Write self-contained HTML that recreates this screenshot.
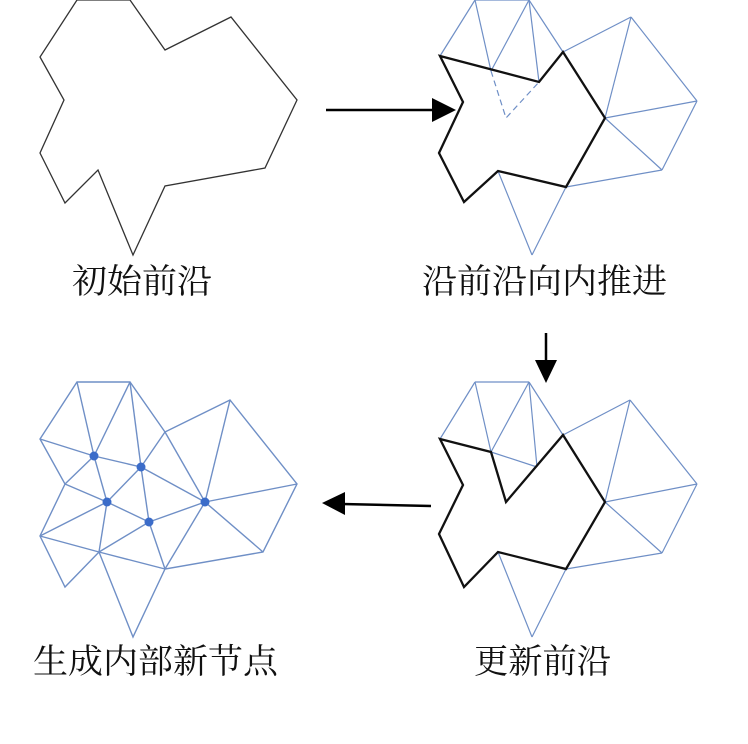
<!DOCTYPE html>
<html><head><meta charset="utf-8"><style>
html,body{margin:0;padding:0;background:#fff;}
svg{display:block}
text{font-family:"Liberation Serif","Noto Serif CJK SC",serif;font-size:34px;fill:#111;}
</style></head><body>
<svg width="748" height="744" viewBox="0 0 748 744" xmlns="http://www.w3.org/2000/svg">
<defs><marker id="ah" markerWidth="10" markerHeight="10" refX="0" refY="0"/></defs>
<!-- Panel 1 -->
<polygon points="77,0 130,0 165,50 231,17 297,100 265,168 165,186 133,255 98,170 65,203 40,153 64,100 40,57" fill="none" stroke="#333" stroke-width="1.3"/>
<!-- Arrow right -->
<line x1="326" y1="110" x2="434" y2="110" stroke="#000" stroke-width="2.5"/>
<polygon points="432,98 456,110 432,122" fill="#000"/>
<!-- Panel 2 blue -->
<g stroke="#6f8fc6" stroke-width="1.2" fill="none">
<line x1="475" y1="0" x2="529" y2="0"/>
<line x1="440" y1="56" x2="475" y2="0"/>
<line x1="475" y1="0" x2="491" y2="71"/>
<line x1="491" y1="71" x2="529" y2="0"/>
<line x1="529" y1="0" x2="539" y2="82"/>
<line x1="529" y1="0" x2="563" y2="52"/>
<line x1="563" y1="52" x2="631" y2="17"/>
<line x1="631" y1="17" x2="697" y2="101"/>
<line x1="631" y1="17" x2="605" y2="118"/>
<line x1="605" y1="118" x2="697" y2="101"/>
<line x1="605" y1="118" x2="662" y2="170"/>
<line x1="697" y1="101" x2="662" y2="170"/>
<line x1="662" y1="170" x2="566" y2="187"/>
<line x1="498" y1="171" x2="532" y2="255"/>
<line x1="532" y1="255" x2="566" y2="187"/>
<polyline points="491,71 506,118 539,82" stroke-dasharray="6,4"/>
</g>
<polygon points="440,56 539,82 563,52 605,118 566,187 498,171 464,202 439,153 463,102" fill="none" stroke="#111" stroke-width="2.3"/>
<!-- Down arrow -->
<line x1="546" y1="333" x2="546" y2="362" stroke="#000" stroke-width="2.5"/>
<polygon points="535,360 546,383 557,360" fill="#000"/>
<!-- Panel 4 -->
<g stroke="#6f8fc6" stroke-width="1.2" fill="none">
<line x1="475" y1="382" x2="529" y2="382"/>
<line x1="440" y1="439" x2="475" y2="382"/>
<line x1="475" y1="382" x2="491" y2="452"/>
<line x1="491" y1="452" x2="529" y2="382"/>
<line x1="529" y1="382" x2="537" y2="467"/>
<line x1="491" y1="452" x2="537" y2="467"/>
<line x1="529" y1="382" x2="563" y2="435"/>
<line x1="563" y1="435" x2="630" y2="400"/>
<line x1="630" y1="400" x2="697" y2="484"/>
<line x1="630" y1="400" x2="605" y2="502"/>
<line x1="605" y1="502" x2="697" y2="484"/>
<line x1="605" y1="502" x2="662" y2="553"/>
<line x1="697" y1="484" x2="662" y2="553"/>
<line x1="662" y1="553" x2="566" y2="569"/>
<line x1="498" y1="552" x2="532" y2="637"/>
<line x1="532" y1="637" x2="566" y2="569"/>
</g>
<polygon points="440,439 491,452 506,502 563,435 605,502 566,569 498,552 464,587 439,534 463,485" fill="none" stroke="#111" stroke-width="2.3"/>
<!-- Left arrow -->
<line x1="431" y1="506" x2="342" y2="504" stroke="#000" stroke-width="2.5"/>
<polygon points="345,492 322,503 345,515" fill="#000"/>
<!-- Panel 3 -->
<g stroke="#6f8fc6" stroke-width="1.4" fill="none">
<polygon points="77,382 130,382 165,432 230,400 297,484 263,552 165,569 133,637 99,552 65,587 40,536 65,484 40,439"/>
<line x1="40" y1="439" x2="94" y2="456"/>
<line x1="77" y1="382" x2="94" y2="456"/>
<line x1="130" y1="382" x2="94" y2="456"/>
<line x1="94" y1="456" x2="141" y2="467"/>
<line x1="130" y1="382" x2="141" y2="467"/>
<line x1="141" y1="467" x2="165" y2="432"/>
<line x1="165" y1="432" x2="205" y2="502"/>
<line x1="141" y1="467" x2="205" y2="502"/>
<line x1="230" y1="400" x2="205" y2="502"/>
<line x1="297" y1="484" x2="205" y2="502"/>
<line x1="263" y1="552" x2="205" y2="502"/>
<line x1="205" y1="502" x2="149" y2="522"/>
<line x1="205" y1="502" x2="165" y2="569"/>
<line x1="141" y1="467" x2="149" y2="522"/>
<line x1="141" y1="467" x2="107" y2="502"/>
<line x1="94" y1="456" x2="107" y2="502"/>
<line x1="65" y1="484" x2="94" y2="456"/>
<line x1="65" y1="484" x2="107" y2="502"/>
<line x1="40" y1="536" x2="107" y2="502"/>
<line x1="40" y1="536" x2="99" y2="552"/>
<line x1="99" y1="552" x2="165" y2="569"/>
<line x1="99" y1="552" x2="107" y2="502"/>
<line x1="99" y1="552" x2="149" y2="522"/>
<line x1="149" y1="522" x2="165" y2="569"/>
<line x1="107" y1="502" x2="149" y2="522"/>
</g>
<g fill="#3b6cc9">
<circle cx="94" cy="456" r="4.5"/><circle cx="141" cy="467" r="4.5"/>
<circle cx="107" cy="502" r="4.5"/><circle cx="149" cy="522" r="4.5"/>
<circle cx="205" cy="502" r="4.5"/>
</g>
<!-- Labels -->
<text x="72" y="293" textLength="140" lengthAdjust="spacingAndGlyphs">初始前沿</text>
<text x="422" y="293" textLength="245" lengthAdjust="spacingAndGlyphs">沿前沿向内推进</text>
<text x="33" y="673" textLength="245" lengthAdjust="spacingAndGlyphs">生成内部新节点</text>
<text x="474" y="673" textLength="137" lengthAdjust="spacingAndGlyphs">更新前沿</text>
</svg>
</body></html>
